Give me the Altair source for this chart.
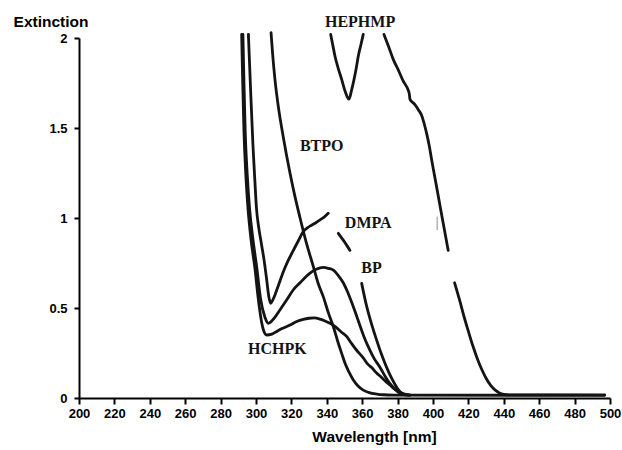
import altair as alt
import pandas as pd

# --- absorption spectra (wavelength in nm, extinction) ---

# HEPHMP: short V-shaped band, then the main band (trace broken between 408 and 412 nm)
hephmp_v_nm = [342.2, 343.4, 344.6, 346.5, 348.4, 350.5, 352.5, 354.0, 355.4, 356.6, 357.8, 359.2, 360.6]
hephmp_v_ext = [2.02, 1.96, 1.90, 1.83, 1.77, 1.70, 1.66, 1.71, 1.77, 1.83, 1.90, 1.96, 2.02]
hephmp_hi_nm = [372.3, 375.0, 377.6, 380.5, 383.2, 386.0, 386.6, 387.0, 388.2, 389.8, 391.8, 393.6,
                 395.0, 396.4, 397.9, 399.3, 400.7, 402.1, 405.4, 408.6]
hephmp_hi_ext = [2.02, 1.95, 1.88, 1.82, 1.76, 1.71, 1.69, 1.66, 1.645, 1.63, 1.60, 1.57,
                 1.525, 1.47, 1.40, 1.32, 1.245, 1.17, 0.99, 0.82]
hephmp_lo_nm = [412.2, 415.0, 417.6, 420.0, 422.5, 425.0, 427.5, 430.0, 432.6, 435.0, 437.5, 440.0, 444.0, 497.0]
hephmp_lo_ext = [0.64, 0.545, 0.45, 0.37, 0.29, 0.22, 0.16, 0.11, 0.07, 0.045, 0.028, 0.02, 0.017, 0.017]

# BTPO
btpo_nm = [308.5, 309.4, 310.7, 312.6, 315.4, 319.2, 322.0, 324.9, 328.5, 332.4, 335.0, 338.0, 341.0,
           343.7, 346.5, 348.5, 350.3, 352.5, 355.0, 357.5, 360.6, 364.0, 368.2, 372.0, 377.6, 497.0]
btpo_ext = [2.03, 1.91, 1.77, 1.62, 1.45, 1.25, 1.12, 1.0, 0.86, 0.73, 0.64, 0.563, 0.47,
            0.396, 0.304, 0.245, 0.193, 0.145, 0.10, 0.068, 0.044, 0.03, 0.022, 0.018, 0.016, 0.015]

# DMPA (three pieces, interrupted around the labels)
dmpa_a_nm = [295.7, 297.0, 298.3, 299.4, 300.3, 301.5, 303.0, 304.5, 306.0, 307.3, 308.3, 309.5, 311.0,
             313.0, 315.4, 318.0, 321.1, 324.0, 326.7, 329.0, 331.4, 334.0, 336.2, 338.5, 340.8]
dmpa_a_ext = [2.02, 1.70, 1.40, 1.20, 1.05, 0.95, 0.86, 0.77, 0.66, 0.56, 0.526, 0.545, 0.58,
              0.635, 0.70, 0.76, 0.82, 0.875, 0.924, 0.945, 0.96, 0.975, 0.99, 1.005, 1.026]
dmpa_b_nm = [346.5, 349.8, 353.1]
dmpa_b_ext = [0.915, 0.87, 0.82]
dmpa_c_nm = [359.7, 362.5, 365.3, 368.2, 371.0, 373.8, 376.6, 379.5, 381.4, 384.0, 387.0]
dmpa_c_ext = [0.637, 0.51, 0.41, 0.32, 0.24, 0.17, 0.11, 0.06, 0.035, 0.022, 0.017]

# BP
bp_nm = [292.6, 293.2, 293.9, 295.0, 296.4, 298.3, 300.5, 302.6, 305.0, 307.0, 310.0, 313.6, 317.3,
         321.0, 324.9, 330.0, 334.0, 338.0, 341.0, 343.7, 346.5, 349.3, 351.7, 354.1, 356.5, 358.8,
         361.0, 363.4, 366.7, 370.1, 373.0, 375.7, 378.0, 380.4, 383.0, 386.0]
bp_ext = [2.02, 1.75, 1.48, 1.25, 1.05, 0.88, 0.72, 0.55, 0.45, 0.415, 0.44, 0.49, 0.544,
          0.60, 0.64, 0.69, 0.715, 0.726, 0.72, 0.71, 0.68, 0.64, 0.59, 0.53, 0.465, 0.40,
          0.34, 0.285, 0.22, 0.17, 0.12, 0.08, 0.055, 0.035, 0.022, 0.017]

# HCHPK (slightly ragged trace on the long-wavelength side)
hchpk_nm = [291.9, 292.5, 293.2, 294.2, 295.5, 297.2, 299.4, 301.3, 303.2, 304.3, 306.0, 309.0, 311.7,
            315.0, 319.2, 323.0, 326.7, 330.0, 333.0, 336.2, 339.0, 341.8, 344.6, 348.0, 351.2, 353.5,
            355.8, 358.0, 360.5, 363.0, 365.5, 368.0, 370.5, 373.0, 375.7, 378.5, 381.4, 384.0, 387.0]
hchpk_ext = [2.02, 1.75, 1.48, 1.25, 1.05, 0.88, 0.72, 0.55, 0.42, 0.375, 0.35, 0.355, 0.37,
             0.387, 0.405, 0.425, 0.437, 0.443, 0.445, 0.438, 0.428, 0.415, 0.398, 0.368, 0.342, 0.31,
             0.278, 0.252, 0.224, 0.19, 0.168, 0.14, 0.118, 0.095, 0.072, 0.048, 0.026, 0.018, 0.015]

# faint stray stroke next to the HEPHMP band
stray_nm = [402.4, 402.4]
stray_ext = [1.007, 0.933]

# curve labels
label_text = ["HEPHMP", "BTPO", "DMPA", "BP", "HCHPK"]
label_nm = [358.8, 337.1, 363.4, 365.3, 312.1]
label_ext = [2.09, 1.40, 0.975, 0.725, 0.272]

x_ticks = list(range(200, 501, 20))
y_ticks = [0, 0.5, 1, 1.5, 2]

pieces = [
    ("HEPHMP-v", hephmp_v_nm, hephmp_v_ext),
    ("HEPHMP-hi", hephmp_hi_nm, hephmp_hi_ext),
    ("HEPHMP-lo", hephmp_lo_nm, hephmp_lo_ext),
    ("BTPO", btpo_nm, btpo_ext),
    ("DMPA-a", dmpa_a_nm, dmpa_a_ext),
    ("DMPA-b", dmpa_b_nm, dmpa_b_ext),
    ("DMPA-c", dmpa_c_nm, dmpa_c_ext),
    ("BP", bp_nm, bp_ext),
    ("HCHPK", hchpk_nm, hchpk_ext),
]
rows = []
for seg, nms, exts in pieces:
    for i, (a, b) in enumerate(zip(nms, exts)):
        rows.append({"seg": seg, "nm": a, "ext": b, "i": i})
spectra = pd.DataFrame(rows)
stray = pd.DataFrame({"nm": stray_nm, "ext": stray_ext, "i": [0, 1]})
labels = pd.DataFrame({"label": label_text, "nm": label_nm, "ext": label_ext})

sans = "Liberation Sans"

x_enc = alt.X(
    "nm:Q",
    scale=alt.Scale(domain=[200, 500], nice=False, zero=False),
    axis=alt.Axis(
        values=x_ticks, title="Wavelength [nm]", labelOverlap=False, labelFlush=False,
        titleX=295, titleY=43, titleAlign="center", titleBaseline="alphabetic",
        tickSize=6, labelPadding=3,
    ),
)
y_enc = alt.Y(
    "ext:Q",
    scale=alt.Scale(domain=[0, 2], nice=False),
    axis=alt.Axis(
        values=y_ticks, format=".1~f", title="Extinction", labelOverlap=False, labelFlush=False,
        titleAngle=0, titleX=-28.5, titleY=-11.5, titleAlign="center", titleBaseline="alphabetic",
        tickSize=5, labelPadding=7,
    ),
)

lines = alt.Chart(spectra).mark_line(
    color="#141414", strokeWidth=2.8, interpolate="monotone", strokeCap="round", strokeJoin="round"
).encode(x=x_enc, y=y_enc, detail="seg:N", order="i:Q")

stray_mark = alt.Chart(stray).mark_line(color="#b4b4b4", strokeWidth=1.6).encode(
    x=x_enc, y=y_enc, order="i:Q"
)

text = alt.Chart(labels).mark_text(
    font="Liberation Serif", fontWeight="bold", fontSize=16, color="#141414",
    align="center", baseline="middle",
).encode(x=x_enc, y=y_enc, text="label:N")

chart = alt.layer(lines, stray_mark, text).properties(
    width=531, height=360,
    autosize=alt.AutoSizeParams(type="none"),
    padding={"left": 79, "top": 38, "right": 12, "bottom": 52},
    background="white",
).configure_view(
    stroke=None
).configure_axis(
    grid=False, domainColor="black", domainWidth=2, tickColor="black", tickWidth=2,
    labelFont=sans, labelFontWeight="bold", labelFontSize=13, labelColor="black",
    labelOverlap=False, labelFlush=False, labelBound=False,
    titleFont=sans, titleFontWeight="bold", titleFontSize=15.5, titleColor="black",
)

chart.save("out.html", embed_options={"renderer": "svg", "actions": False})
